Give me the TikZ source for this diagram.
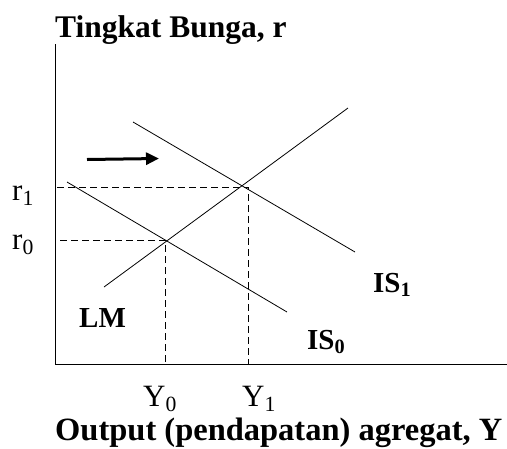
\documentclass[tikz,border=0pt]{standalone}
\usepackage{fontspec}
\setmainfont{Liberation Serif}
\usetikzlibrary{arrows.meta}

\begin{document}
\begin{tikzpicture}[
  x=1pt, y=-1pt,
  every node/.style={inner sep=0pt},
  axis/.style={line width=0.8pt},
  curve/.style={line width=0.8pt},
  guide/.style={line width=1pt, dash pattern=on 7pt off 4pt},
  movearr/.style={-{Triangle[length=13pt, width=12pt]}, line width=3pt},
  bigbold/.style={font=\fontsize{31.5}{34}\selectfont\bfseries, anchor=base west},
  ticklab/.style={font=\fontsize{31}{34}\selectfont, anchor=base west, text depth=0pt},
  curvelab/.style={font=\fontsize{29}{32}\selectfont\bfseries, anchor=base west}
]
\useasboundingbox (0,0) rectangle (507,448);

% Axes and their titles.
\coordinate (O)   at (55,364);
\coordinate (top) at (55,44);
\coordinate (rgt) at (507,364);
\draw[axis] (top) -- (O) -- (rgt);
\node[bigbold] (ytitle) at (55,37) {Tingkat Bunga, r};
\node[bigbold, font=\fontsize{32.5}{35}\selectfont\bfseries, text height=22pt] (xtitle) at (55,440) {Output (pendapatan) agregat, Y};

% LM curve and the two IS curves.
\coordinate (LMa)  at (104,287);
\coordinate (LMb)  at (348,108);
\coordinate (IS0a) at (67,182);
\coordinate (IS0b) at (287,312);
\coordinate (IS1a) at (133,122);
\coordinate (IS1b) at (355,252);
\draw[curve] (LMa) -- (LMb);
\draw[curve] (IS0a) -- (IS0b);
\draw[curve] (IS1a) -- (IS1b);

% Equilibria, read off on both axes.
\coordinate (E0) at (165,240);
\coordinate (E1) at (242,187);
\draw[guide] (E0 -| 60,0) -- (E0) -- (E0 |- O);
\draw[guide] (E1 -| 57,0) -- (E1) -- (248,187) -- (248,364);

% The IS curve moves to the right.
\coordinate (arrA) at (87,159.5);
\coordinate (arrB) at (159,158.5);
\draw[movearr] (arrA) -- (arrB);

% Labels.
\node[ticklab] (r1) at (12,200) {r\textsubscript{1}};
\node[ticklab] (r0) at (12,249) {r\textsubscript{0}};
\node[ticklab] (y0) at (143,406) {Y\textsubscript{0}};
\node[ticklab] (y1) at (242,406) {Y\textsubscript{1}};
\node[curvelab] (lm)  at (79,327) {LM};
\node[curvelab] (is0) at (307,349) {IS\textsubscript{0}};
\node[curvelab] (is1) at (373,292) {IS\textsubscript{1}};

\end{tikzpicture}
\end{document}
